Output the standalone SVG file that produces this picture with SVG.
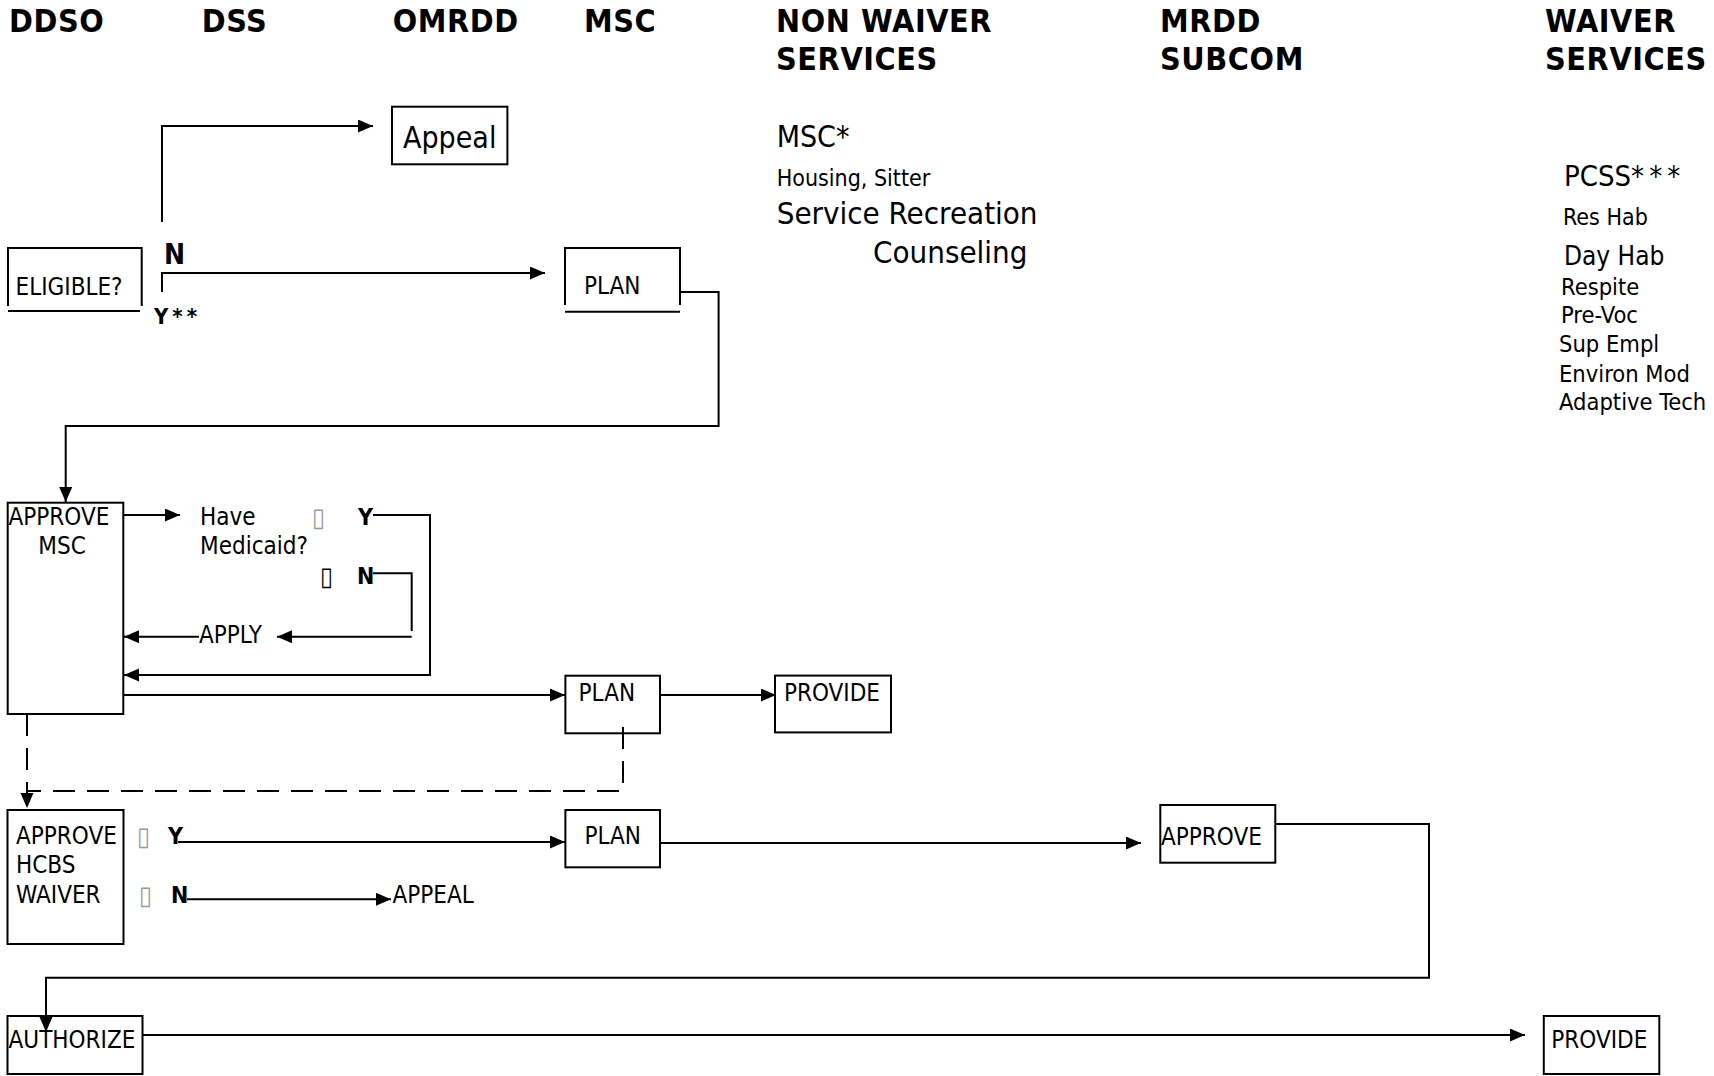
<svg xmlns="http://www.w3.org/2000/svg" width="1714" height="1076" viewBox="0 0 1714 1076">
<defs>
<marker id="ah" markerUnits="userSpaceOnUse" markerWidth="16" markerHeight="14" refX="15" refY="6.5" orient="auto">
<path d="M0,0 L15,6.5 L0,13 z" fill="#000"/>
</marker>
<style>
text{font-family:"DejaVu Sans Condensed","DejaVu Sans",sans-serif;font-stretch:condensed;fill:#000}
.h{font-weight:bold;font-size:32px;letter-spacing:0.6px}
.b{font-size:24px}
.k{font-weight:bold;font-size:23px}
.s{font-size:23.5px}
.tofu{font-size:26px;fill:#999}
.box{fill:none;stroke:#000;stroke-width:2}
.ln{fill:none;stroke:#000;stroke-width:2}
.c{fill:none;stroke:#000;stroke-width:2}
.a{marker-end:url(#ah)}
.d{stroke-dasharray:22 12}
</style>
</defs>

<g id="headers">
<text class="h" x="9" y="32">DDSO</text>
<text class="h" x="201.7" y="32">DSS</text>
<text class="h" x="392.7" y="32">OMRDD</text>
<text class="h" x="584" y="32">MSC</text>
<text class="h" x="776" y="32">NON WAIVER</text>
<text class="h" x="776" y="70">SERVICES</text>
<text class="h" x="1160" y="32">MRDD</text>
<text class="h" x="1160" y="70">SUBCOM</text>
<text class="h" x="1545" y="32">WAIVER</text>
<text class="h" x="1545" y="70">SERVICES</text>
</g>

<g id="nonwaiver-list">
<text x="776.7" y="147" style="font-size:30px">MSC*</text>
<text x="776.7" y="186" style="font-size:23px">Housing, Sitter</text>
<text x="776.7" y="224" style="font-size:31px">Service Recreation</text>
<text x="873" y="263" style="font-size:31px">Counseling</text>
</g>

<g id="waiver-list">
<text x="1564" y="186" style="font-size:29px">PCSS<tspan letter-spacing="5px">***</tspan></text>
<text x="1563" y="224.5" style="font-size:23px">Res Hab</text>
<text x="1564" y="265" style="font-size:26px">Day Hab</text>
<text x="1561" y="295" class="s">Respite</text>
<text x="1561" y="323" class="s">Pre-Voc</text>
<text x="1559" y="352" class="s">Sup Empl</text>
<text x="1559" y="381.5" class="s">Environ Mod</text>
<text x="1559" y="410" class="s">Adaptive Tech</text>
</g>

<g id="connectors">
<path class="c a" d="M162,222 V126 H373"/>
<path class="c a" d="M162,292 V273 H545"/>
<path class="c a" d="M680,292 H718.6 V426 H65.7 V502"/>
<path class="c a" d="M123,515 H180"/>
<path class="c a" d="M373,515 H430 V675 H124"/>
<path class="c" d="M373,573.3 H411.7 V631"/>
<path class="c a" d="M411.7,636.7 H277"/>
<path class="c a" d="M199,636.7 H124"/>
<path class="c a" d="M123,695 H565"/>
<path class="c a" d="M660,695 H776"/>
<path class="c d a" d="M27,714 V808"/>
<path class="c d" d="M623,727 V791 H27"/>
<path class="c a" d="M178,842 H565"/>
<path class="c a" d="M187,899.3 H391"/>
<path class="c a" d="M660,843 H1141"/>
<path class="c a" d="M1275,824 H1429 V977.7 H46 V1032"/>
<path class="c a" d="M142.4,1035 H1525"/>
</g>

<g id="eligible">
<path class="ln" d="M8,306 V248 H141.7 V306"/>
<line class="ln" x1="8" y1="311" x2="140" y2="311"/>
<text class="b" x="15.5" y="295">ELIGIBLE?</text>
</g>

<g id="label-n1"><text x="164" y="264" style="font-weight:bold;font-size:28px">N</text></g>
<g id="label-y1"><text x="154" y="324" style="font-weight:bold;font-size:22px;letter-spacing:4px">Y**</text></g>

<g id="appeal-box">
<rect class="box" x="392" y="106.7" width="115.4" height="57.6"/>
<text x="403" y="148" style="font-size:30px">Appeal</text>
</g>

<g id="plan1">
<path class="ln" d="M565,305 V248 H680 V305"/>
<line class="ln" x1="565" y1="311.7" x2="680" y2="311.7"/>
<text class="b" x="584" y="294">PLAN</text>
</g>

<g id="approve-msc">
<rect class="box" x="7.7" y="502.7" width="115.6" height="211.3"/>
<text class="b" x="8.5" y="525">APPROVE</text>
<text class="b" x="38.3" y="554">MSC</text>
</g>

<g id="have-medicaid">
<text class="b" x="200" y="525">Have</text>
<text class="b" x="200" y="554">Medicaid?</text>
<text class="tofu" x="312" y="526">▯</text>
<text class="k" x="358" y="525">Y</text>
<text class="tofu" x="320" y="585" style="fill:#000;font-weight:bold">▯</text>
<text class="k" x="357" y="584">N</text>
<text class="b" x="199" y="643">APPLY</text>
</g>

<g id="plan2">
<rect class="box" x="565.4" y="675.7" width="94.6" height="57.6"/>
<text class="b" x="578.6" y="700.7">PLAN</text>
</g>

<g id="provide1">
<rect class="box" x="775" y="675.6" width="116" height="56.8"/>
<text class="b" x="784" y="700.7">PROVIDE</text>
</g>

<g id="approve-hcbs">
<rect class="box" x="7.5" y="810" width="116" height="134"/>
<text class="b" x="16" y="844">APPROVE</text>
<text class="b" x="16" y="873.3">HCBS</text>
<text class="b" x="16" y="903.3">WAIVER</text>
</g>

<g id="hcbs-labels">
<text class="tofu" x="137" y="845">▯</text>
<text class="k" x="168" y="844">Y</text>
<text class="tofu" x="139" y="904">▯</text>
<text class="k" x="171" y="903">N</text>
<text class="b" x="392.5" y="903">APPEAL</text>
</g>

<g id="plan3">
<rect class="box" x="565.4" y="810" width="94.6" height="57.3"/>
<text class="b" x="584.4" y="844">PLAN</text>
</g>

<g id="approve-mrdd">
<rect class="box" x="1160.3" y="805" width="115" height="57.7"/>
<text class="b" x="1161" y="845">APPROVE</text>
</g>

<g id="authorize">
<rect class="box" x="7.5" y="1016" width="135" height="58"/>
<text class="b" x="8.6" y="1048.3">AUTHORIZE</text>
</g>

<g id="provide2">
<rect class="box" x="1543.8" y="1016" width="115.5" height="58"/>
<text class="b" x="1551.3" y="1048.3">PROVIDE</text>
</g>
</svg>
